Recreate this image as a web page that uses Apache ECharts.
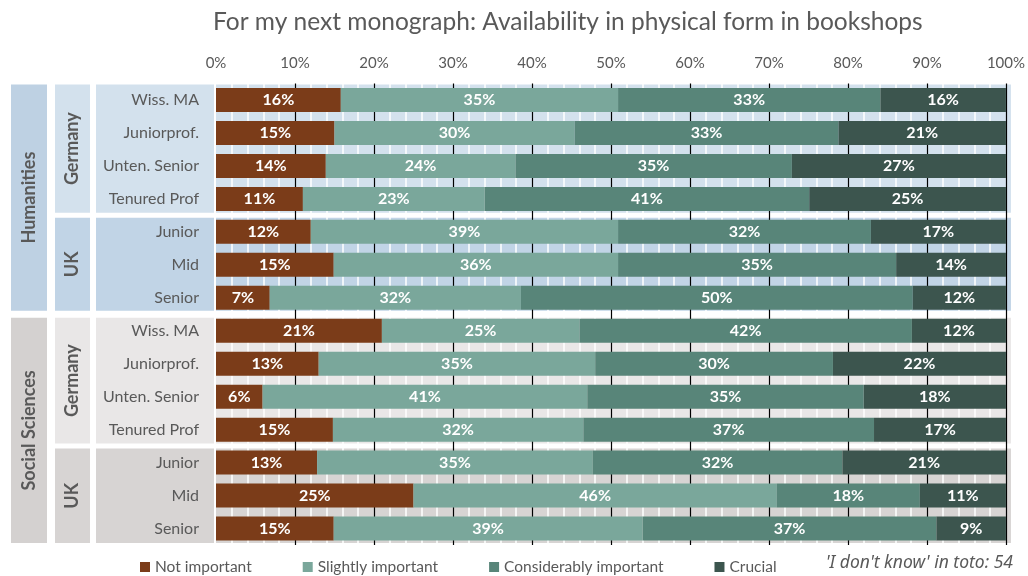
<!DOCTYPE html>
<html>
<head>
<meta charset="utf-8">
<title>For my next monograph: Availability in physical form in bookshops</title>
<script src="https://cdn.jsdelivr.net/npm/echarts@6/dist/echarts.min.js"></script>
<style>
  html, body { margin: 0; padding: 0; background: #ffffff; }
  #chart { width: 1028px; height: 576px; }
</style>
</head>
<body>
<div id="chart"></div>
<script>
// Survey groups and the career stages asked in each country
const fields = ['Humanities', 'Social Sciences'];
const countries = ['Germany', 'UK'];
const germanyRanks = ['Wiss. MA', 'Juniorprof.', 'Unten. Senior', 'Tenured Prof'];
const ukRanks = ['Junior', 'Mid', 'Senior'];

// Answer categories (share of respondents, %), one value per row, top to bottom
const answerNames = ['Not important', 'Slightly important', 'Considerably important', 'Crucial'];
const notImportant          = [15.8, 15.0, 13.9, 11.0, 12.0, 14.9,  6.8, 21.0, 13.0,  5.9, 14.8, 12.8, 25.0, 14.9];
const slightlyImportant     = [35.1, 30.4, 24.0, 23.0, 38.9, 36.0, 31.8, 25.0, 35.0, 41.1, 31.7, 34.9, 46.0, 39.1];
const considerablyImportant = [33.2, 33.4, 35.0, 41.1, 32.0, 35.2, 49.6, 42.1, 30.1, 35.0, 36.8, 31.6, 18.1, 37.2];
const crucial               = [15.9, 21.2, 27.1, 24.9, 17.1, 13.9, 11.8, 11.9, 21.9, 18.0, 16.7, 20.7, 10.9,  8.8];

const xTicks = [0, 10, 20, 30, 40, 50, 60, 70, 80, 90, 100];
const footNote = "'I don't know' in toto: 54";

// ---- styling ----
const FONT = 'Lato, "Open Sans", sans-serif';
const TEXT_GREY = '#595959';
const answerColors = ['#7b3c19', '#7aa79b', '#588579', '#3c554e'];
const blockColors = {
  'Humanities':      { field: '#bed1e3', Germany: '#d3e1ed', UK: '#c1d4e6' },
  'Social Sciences': { field: '#d4d1d0', Germany: '#e9e7e7', UK: '#d7d4d3' }
};

// ---- build rows and grouping blocks ----
const rowLabels = [];
const blocks = [];
fields.forEach((field) => {
  const fieldStart = rowLabels.length;
  countries.forEach((country) => {
    const ranks = country === 'Germany' ? germanyRanks : ukRanks;
    const start = rowLabels.length;
    ranks.forEach((r) => rowLabels.push(r));
    blocks.push({ kind: 'country', field, name: country, start, end: rowLabels.length - 1 });
  });
  blocks.push({ kind: 'field', field, name: field, start: fieldStart, end: rowLabels.length - 1 });
});
const lastRow = rowLabels.length - 1;
const startsField = (i) => blocks.some(f => f.kind === 'field' && f.start === i);
const endsField = (i) => blocks.some(f => f.kind === 'field' && f.end === i);

// white gaps between neighbouring blocks: wider between the two fields
function edgeInsets(b) {
  const top = b.start === 0 ? 1 : (startsField(b.start) ? 3.5 : 2.5);
  const bottom = b.end === lastRow ? 2 : (endsField(b.end) ? 3.5 : 2.5);
  return [top, bottom];
}

function renderBlock(params, api) {
  const b = blocks[params.dataIndex];
  const grid = params.coordSys;
  const band = api.size([0, 1])[1];
  const [insTop, insBottom] = edgeInsets(b);
  const y0 = api.coord([0, b.start])[1] - band / 2 + insTop;
  const y1 = api.coord([0, b.end])[1] + band / 2 - insBottom;
  const h = y1 - y0;
  const mid = (y0 + y1) / 2;
  const colors = blockColors[b.field];
  const labelStyle = { fill: TEXT_GREY, fontSize: 18, fontWeight: 'bold', fontFamily: FONT, align: 'center', verticalAlign: 'middle' };
  const children = [];
  if (b.kind === 'country') {
    const c = colors[b.name];
    children.push({ type: 'rect', shape: { x: grid.x, y: y0, width: grid.width + 5, height: h }, style: { fill: c } });
    children.push({ type: 'rect', shape: { x: grid.x - 120, y: y0, width: 118, height: h }, style: { fill: c } });
    children.push({ type: 'rect', shape: { x: grid.x - 161, y: y0, width: 35, height: h }, style: { fill: c } });
    children.push({ type: 'text', x: grid.x - 143.5, y: mid, rotation: Math.PI / 2, style: Object.assign({ text: b.name }, labelStyle) });
  } else {
    children.push({ type: 'rect', shape: { x: grid.x - 205, y: y0, width: 36, height: h }, style: { fill: colors.field } });
    children.push({ type: 'text', x: grid.x - 187, y: mid, rotation: Math.PI / 2, style: Object.assign({ text: b.name }, labelStyle) });
  }
  return { type: 'group', children };
}

const answerData = [notImportant, slightlyImportant, considerablyImportant, crucial];

const barSeries = answerNames.map((name, i) => ({
  name,
  type: 'bar',
  stack: 'share',
  barWidth: 24,
  data: answerData[i],
  itemStyle: { color: answerColors[i] },
  label: {
    show: true,
    position: 'inside',
    formatter: (p) => Math.round(p.value) + '%',
    color: '#ffffff',
    fontWeight: 'bold',
    fontSize: 16,
    fontFamily: FONT
  },
  emphasis: { disabled: true }
}));

const chart = echarts.init(document.getElementById('chart'), null, { renderer: 'canvas' });
chart.setOption({
  animation: false,
  textStyle: { fontFamily: FONT },
  title: [
    {
      text: 'For my next monograph: Availability in physical form in bookshops',
      left: 208, top: 5,
      textStyle: { color: TEXT_GREY, fontSize: 24.5, fontWeight: 'normal', fontFamily: FONT }
    },
    {
      text: footNote,
      right: 10, top: 549,
      textStyle: { color: TEXT_GREY, fontSize: 17.5, fontStyle: 'italic', fontWeight: 'normal', fontFamily: '"Noto Sans", "Open Sans", sans-serif' }
    }
  ],
  legend: {
    data: answerNames,
    left: 135, top: 554,
    icon: 'rect', itemWidth: 10, itemHeight: 10, itemGap: 51,
    textStyle: { color: TEXT_GREY, fontSize: 15.5, fontFamily: FONT },
    selectedMode: false
  },
  grid: { left: 216, right: 21, top: 83.5, bottom: 31, containLabel: false },
  xAxis: {
    type: 'value',
    position: 'top',
    min: xTicks[0], max: xTicks[xTicks.length - 1], interval: xTicks[1] - xTicks[0],
    axisLine: { show: false },
    axisTick: { show: false },
    axisLabel: { formatter: '{value}%', color: TEXT_GREY, fontSize: 15, margin: 13, fontFamily: FONT },
    splitLine: { show: true, showMinLine: false, lineStyle: { color: '#000000', width: 1.2 } },
    minorTick: { show: false, splitNumber: 5 },
    minorSplitLine: { show: true, lineStyle: { color: '#ffffff', width: 1.5 } }
  },
  yAxis: {
    type: 'category',
    inverse: true,
    data: rowLabels,
    axisLine: { show: false },
    axisTick: { show: false },
    axisLabel: { color: TEXT_GREY, fontSize: 16, margin: 17, fontFamily: FONT }
  },
  series: [
    {
      type: 'custom',
      z: -1,
      silent: true,
      clip: false,
      renderItem: renderBlock,
      data: blocks.map(b => [0, b.start])
    },
    ...barSeries
  ]
});
</script>
</body>
</html>
